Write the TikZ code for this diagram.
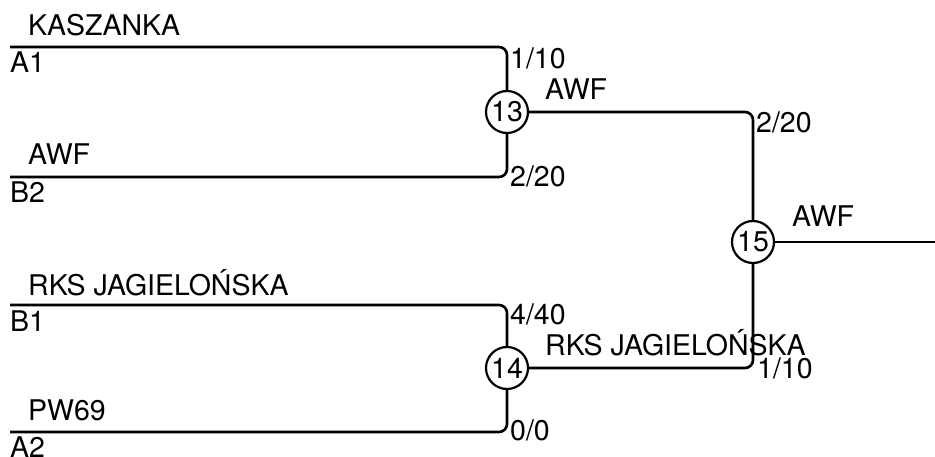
\documentclass[tikz,border=0pt]{standalone}
\usepackage{fontspec}
\setmainfont{TeX Gyre Heros}
\usepackage{tikz}
\usetikzlibrary{positioning}
\tikzset{
  matchnode/.style={circle,draw=black,line width=2.2pt,minimum size=42pt,inner sep=0pt,font=\fontsize{28.5}{32}\selectfont},
  teamlbl/.style={anchor=base west,inner sep=0pt,font=\fontsize{28.5}{32}\selectfont},
  scorelbl/.style={teamlbl},
  bline/.style={line width=2.6pt,rounded corners=8pt},
}

\begin{document}
\begin{tikzpicture}[x=1pt,y=-1pt]
  \useasboundingbox (0,0) rectangle (935,457);
  % seeds
  \coordinate (sA1) at (10,47);
  \coordinate (sB2) at (10,177);
  \coordinate (sB1) at (10,305);
  \coordinate (sA2) at (10,432);
  \coordinate (fin) at (935,242);
  % matches
  \node[matchnode] (m13) at (507,112) {13};
  \node[matchnode] (m14) at (507,368) {14};
  \node[matchnode] (m15) at (753,242) {15};
  \draw[bline] (sA1) -| (m13);
  \draw[bline] (sB2) -| (m13);
  \draw[bline] (sB1) -| (m14);
  \draw[bline] (sA2) -| (m14);
  \draw[bline] (m13) -| (m15);
  \draw[bline] (m14) -| (m15);
  \draw[bline] (m15) -- (fin);
  % team names
  \node[teamlbl] (tA1) at (28,36) {KASZANKA};
  \node[teamlbl] (cA1) at (10,73) {A1};
  \node[teamlbl] (tB2) at (28,165) {AWF};
  \node[teamlbl] (cB2) at (10,203) {B2};
  \node[teamlbl] (tB1) at (28,295) {RKS JAGIELOŃSKA};
  \node[teamlbl] (cB1) at (10,331) {B1};
  \node[teamlbl] (tA2) at (28,420) {PW69};
  \node[teamlbl] (cA2) at (10,457) {A2};
  \node[teamlbl] (w13) at (545,100) {AWF};
  \node[teamlbl] (w14) at (545,355) {RKS JAGIELOŃSKA};
  \node[teamlbl] (w15) at (792,227) {AWF};
  % scores
  \node[scorelbl] (s1) at (510,69) {1/10};
  \node[scorelbl] (s2) at (510,187) {2/20};
  \node[scorelbl] (s3) at (510,324) {4/40};
  \node[scorelbl] (s4) at (510,440) {0/0};
  \node[scorelbl] (s5) at (756,133) {2/20};
  \node[scorelbl] (s6) at (757,378) {1/10};
\end{tikzpicture}
\end{document}
